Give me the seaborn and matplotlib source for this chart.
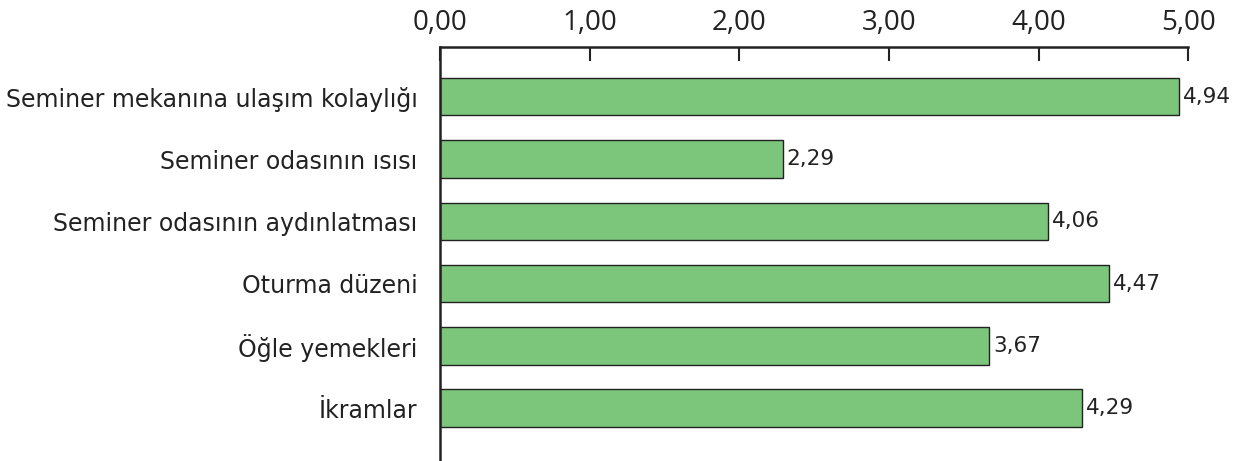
import matplotlib
matplotlib.use("Agg")
import matplotlib.pyplot as plt
import seaborn as sns
import pandas as pd
from matplotlib.ticker import FuncFormatter

categories = ["Seminer mekanına ulaşım kolaylığı", "Seminer odasının ısısı",
              "Seminer odasının aydınlatması", "Oturma düzeni",
              "Öğle yemekleri", "İkramlar"]
scores = [4.94, 2.29, 4.06, 4.47, 3.67, 4.29]
x_ticks = [0, 1, 2, 3, 4, 5]

df = pd.DataFrame({"kategori": categories, "puan": scores})

sns.set_style("white")
plt.rcParams['font.family'] = ['Open Sans', 'DejaVu Sans']

fig = plt.figure(figsize=(12.39, 4.61), dpi=100)
ax = fig.add_axes([0.355, 0.0, 0.604, 0.898])

sns.barplot(data=df, x="puan", y="kategori", orient="h", color="#7bc67a",
            saturation=1, width=0.6, edgecolor="#222222", linewidth=1, ax=ax)

ax.set_xlim(0, 5)
ax.set_ylim(5.85, -0.8)
ax.set_xticks(x_ticks)
ax.xaxis.set_major_formatter(FuncFormatter(lambda v, p: f"{v:.2f}".replace(".", ",")))
ax.xaxis.tick_top()
ax.tick_params(axis="x", direction="in", length=10, width=1.5, labelsize=20,
               pad=7, colors="#222222", labelcolor="#222222")
ax.tick_params(axis="y", length=0, pad=16, labelcolor="#222222")
for lbl in ax.get_yticklabels():
    lbl.set_fontfamily("DejaVu Sans")
    lbl.set_fontsize(17)
ax.set_xlabel("")
ax.set_ylabel("")

for side in ["right", "bottom"]:
    ax.spines[side].set_visible(False)
for side in ["left", "top"]:
    ax.spines[side].set_color("#222222")
    ax.spines[side].set_linewidth(1.8)

labels = [f"{v:.2f}".replace(".", ",") for v in scores]
ax.bar_label(ax.containers[0], labels=labels, padding=3, fontsize=15.5,
             family="DejaVu Sans", color="#222222")

fig.savefig("out.png", dpi=100)
